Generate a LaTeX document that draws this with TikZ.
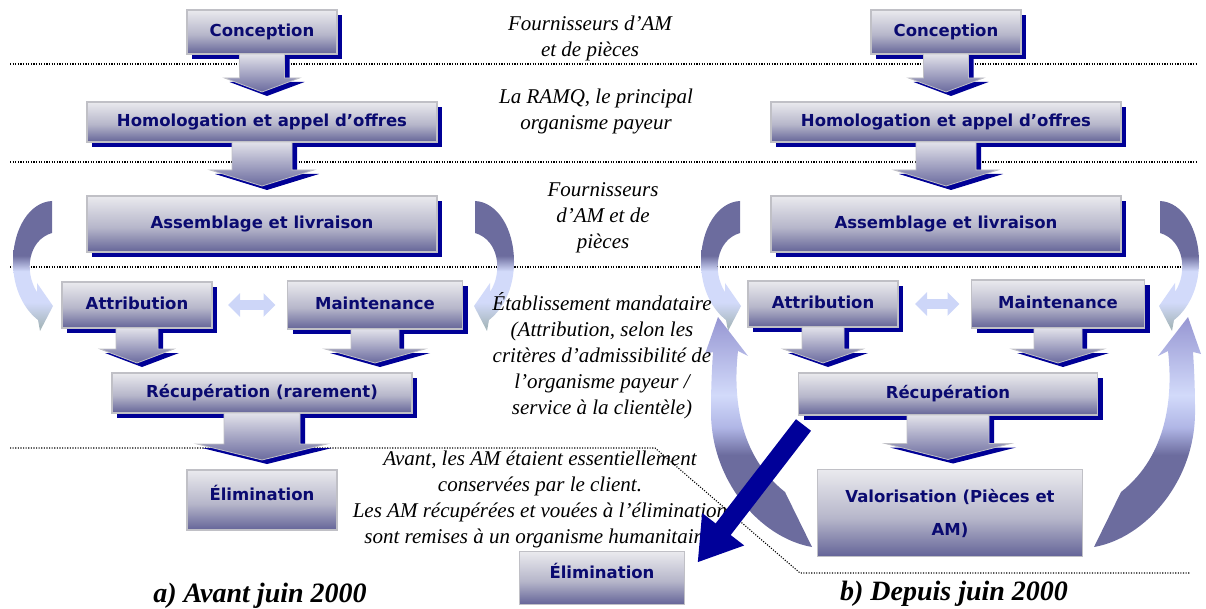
\documentclass[tikz,border=0pt]{standalone}
\usepackage{fontspec}
\usetikzlibrary{arrows.meta,calc,shadows}

\newfontfamily\boxsans{DejaVu Sans}
\newfontfamily\noteserif{Liberation Serif}
\newcommand\boxlabelfont{\boxsans\bfseries\fontsize{16.5}{20}\selectfont}
\newcommand\palit{\noteserif\itshape\fontsize{21}{26}\selectfont}
\newcommand\palbi{\noteserif\bfseries\itshape\fontsize{28}{32}\selectfont}

% colours
\definecolor{navyshadow}{RGB}{0,0,150}
\definecolor{boxtext}{RGB}{10,10,112}
\definecolor{bxtop}{RGB}{234,234,238}
\definecolor{bxmid}{RGB}{182,182,202}
\definecolor{bxbot}{RGB}{100,100,152}
\definecolor{bxline}{RGB}{192,192,198}
\definecolor{arrtop}{RGB}{226,226,234}
\definecolor{arrbot}{RGB}{106,106,158}
\definecolor{darkc}{RGB}{108,108,158}
\definecolor{lightcb}{RGB}{210,218,250}
\definecolor{lightc2}{RGB}{176,182,230}
\definecolor{tipgray}{RGB}{168,184,190}
\definecolor{headc}{RGB}{150,150,210}
\definecolor{dblarrow}{RGB}{205,214,248}
\definecolor{bigarrow}{RGB}{0,0,153}

% shadings
\pgfdeclareverticalshading{boxshade}{100bp}{color(0bp)=(bxbot); color(25bp)=(bxbot); color(47bp)=(bxmid); color(75bp)=(bxtop); color(100bp)=(bxtop)}
\pgfdeclareverticalshading{curlshade}{100bp}{color(0bp)=(tipgray); color(27bp)=(tipgray); color(36bp)=(lightcb); color(48bp)=(lightcb); color(54bp)=(darkc); color(100bp)=(darkc)}
\pgfdeclareverticalshading{loopshade}{100bp}{color(0bp)=(darkc); color(45bp)=(darkc); color(51bp)=(lightc2); color(58bp)=(lightcb); color(75bp)=(headc); color(100bp)=(headc)}

% small curved arrow (top end on the right, head pointing right)
\newcommand\curlpath{(52,201) .. controls (30,202) and (13,228) .. (13,262)
  .. controls (13,290) and (25,310) .. (38,320) -- (40,331) -- (53,306) -- (37,283) -- (37,292)
  .. controls (24,272) and (28,240) .. (52,233) -- cycle}
% large return arrow (tail at the bottom, head pointing up)
\newcommand\looppath{(812,547) .. controls (760,538) and (710,480) .. (711,410)
  .. controls (711,385) and (712,368) .. (713,352) -- (705,354) -- (718,317) -- (748,356) -- (738,351)
  .. controls (733,395) and (738,455) .. (785,492) -- cycle}

% block arrow between two boxes: from, to, shaft half width, head half width, head height
\newcommand\blockarrow[5]{%
  \fill[navyshadow] let \p1=(#1.south), \p2=(#2.north) in
    (\x1-#3pt+5pt,\y1-4pt) -- (\x1-#3pt+5pt,\y2+10pt+#5pt-4pt) -- (\x1-#4pt+5pt,\y2+10pt+#5pt-4pt)
    -- (\x1+5pt,\y2+10pt-4pt) -- (\x1+#4pt+5pt,\y2+10pt+#5pt-4pt) -- (\x1+#3pt+5pt,\y2+10pt+#5pt-4pt)
    -- (\x1+#3pt+5pt,\y1-4pt) -- cycle;
  \path[arrowbody] let \p1=(#1.south), \p2=(#2.north) in
    (\x1-#3pt,\y1) -- (\x1-#3pt,\y2+10pt+#5pt) -- (\x1-#4pt,\y2+10pt+#5pt) -- (\x1,\y2+10pt)
    -- (\x1+#4pt,\y2+10pt+#5pt) -- (\x1+#3pt,\y2+10pt+#5pt) -- (\x1+#3pt,\y1) -- cycle;
}

\tikzset{
  procbox/.style={rectangle, draw=bxline, line width=1.3pt, shading=boxshade,
    text=boxtext, font=\boxlabelfont, inner sep=0pt, outer sep=0pt},
  oneline/.style={text height=12pt, text depth=3.5pt},
  withshadow/.style={drop shadow={shadow xshift=5pt, shadow yshift=-5pt, opacity=1, fill=navyshadow}},
  arrowbody/.style={shade, top color=arrtop, bottom color=arrbot, draw=bxline, line width=0.8pt},
  note/.style={font=\palit, align=center, text=black, inner sep=0pt},
  caption/.style={font=\palbi, inner sep=0pt},
  sepline/.style={line width=1.1pt, dash pattern=on 1.1pt off 1.5pt, black},
  swaparrow/.style={draw=dblarrow, line width=9pt,
    {Triangle[length=12pt,width=23pt]}-{Triangle[length=12pt,width=23pt]}},
  bigpointer/.style={draw=bigarrow, line width=19pt, -{Triangle[length=42pt,width=50pt]}},
}

\begin{document}
\begin{tikzpicture}[x=1pt,y=-1pt]
\useasboundingbox (0,0) rectangle (1206,609);

% level separators
\draw[sepline] (10,64) -- (1198,64);
\draw[sepline] (10,162) -- (1198,162);
\draw[sepline] (10,267) -- (1198,267);
\draw[sepline] (10,448) -- (655,448) -- (800,573) -- (1190,573);

% curved arrows
\path[shading=curlshade] \curlpath;
\begin{scope}[xshift=527pt, xscale=-1]
  \path[shading=curlshade] \curlpath;
\end{scope}
\begin{scope}[xshift=688pt]
  \path[shading=curlshade] \curlpath;
\end{scope}
\begin{scope}[xshift=1212pt, xscale=-1]
  \path[shading=curlshade] \curlpath;
\end{scope}
\path[shading=loopshade] \looppath;
\begin{scope}[xshift=1906pt, xscale=-1]
  \path[shading=loopshade] \looppath;
\end{scope}

% a) before June 2000
\node[procbox, oneline, withshadow, minimum width=150, minimum height=44] (concA) at (262,32) {Conception};
\node[procbox, oneline, withshadow, minimum width=350, minimum height=40] (homoA) at (262,122) {Homologation et appel d’offres};
\node[procbox, oneline, withshadow, minimum width=350, minimum height=56] (assemA) at (262,224) {Assemblage et livraison};
\node[procbox, oneline, withshadow, minimum width=150, minimum height=46] (attrA) at (137,305) {Attribution};
\node[procbox, oneline, withshadow, minimum width=175, minimum height=48] (mainA) at (375,305) {Maintenance};
\node[procbox, oneline, withshadow, minimum width=300, minimum height=40] (recupA) at (262,393) {Récupération (rarement)};
\node[procbox, text height=12pt, text depth=12pt, minimum width=150, minimum height=60] (elimA) at (262,500) {Élimination};

% b) since June 2000
\node[procbox, oneline, withshadow, minimum width=150, minimum height=44] (concB) at (946,32) {Conception};
\node[procbox, oneline, withshadow, minimum width=350, minimum height=40] (homoB) at (946,122) {Homologation et appel d’offres};
\node[procbox, oneline, withshadow, minimum width=350, minimum height=56] (assemB) at (946,224) {Assemblage et livraison};
\node[procbox, oneline, withshadow, minimum width=150, minimum height=46] (attrB) at (823,304) {Attribution};
\node[procbox, oneline, withshadow, minimum width=173, minimum height=48] (mainB) at (1058,304) {Maintenance};
\node[procbox, oneline, withshadow, minimum width=299, minimum height=42] (recupB) at (948,394) {Récupération};
\node[procbox, align=center, font={\boxsans\bfseries\fontsize{16.5}{33}\selectfont}, minimum width=265, minimum height=87] (valB) at (950,513) {Valorisation (Pièces et\\AM)};
\node[procbox, text height=12pt, text depth=12pt, minimum width=165, minimum height=53] (elimB) at (602,578) {Élimination};

% exchanges between attribution and maintenance
\draw[swaparrow] ($(attrA.east)+(16,0)$) -- ($(mainA.west)+(-12,0)$);
\draw[swaparrow] ($(attrB.east)+(17,0)$) -- ($(mainB.west)+(-12,0)$);

% flow arrows
\blockarrow{concA}{homoA}{22.5}{37.5}{14}
\blockarrow{homoA}{assemA}{30}{52}{16}
\blockarrow{attrA}{recupA}{21}{37}{14}
\blockarrow{mainA}{recupA}{24}{50}{14}
\blockarrow{recupA}{elimA}{38}{65}{16}
\blockarrow{concB}{homoB}{22.5}{37.5}{14}
\blockarrow{homoB}{assemB}{30}{52}{16}
\blockarrow{attrB}{recupB}{21}{40}{14}
\blockarrow{mainB}{recupB}{24}{46}{14}
\blockarrow{recupB}{valB}{41}{63}{16}

% actors at each level
\node[note] (actor1) at (590,38) {Fournisseurs d’AM\\et de pièces};
\node[note] (actor2) at (596,111) {La RAMQ, le principal\\organisme payeur};
\node[note] (actor3) at (603,218) {Fournisseurs\\d’AM et de\\pièces};
\node[note] (actor4) at (602,356) {Établissement mandataire\\(Attribution, selon les\\critères d’admissibilité de\\l’organisme payeur /\\service à la clientèle)};
\node[note] (actor5) at (540,499) {Avant, les AM étaient essentiellement\\conservées par le client.\\Les AM récupérées et vouées à l’élimination\\sont remises à un organisme humanitaire.};

% disposal since June 2000
\coordinate (bigstart) at ($(recupB.south west)+(5,10)$);
\coordinate (bigtip) at ($(elimB.north east)+(13,11)$);
\draw[bigpointer] (bigstart) -- (bigtip);

% captions
\node[caption] (capA) at (260,596) {a) Avant juin 2000};
\node[caption] (capB) at (954,594) {b) Depuis juin 2000};
\end{tikzpicture}
\end{document}
